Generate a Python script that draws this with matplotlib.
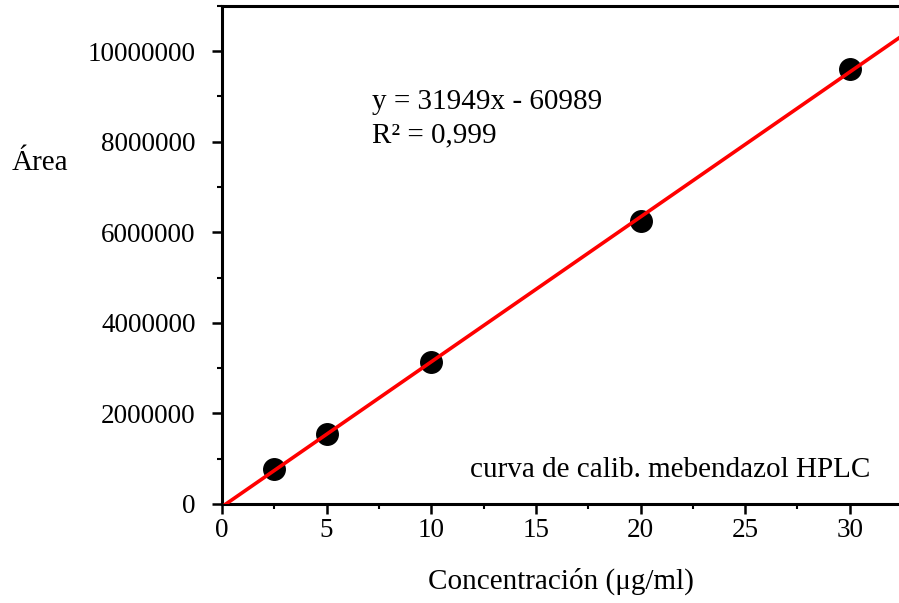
import numpy as np
import matplotlib
matplotlib.use("Agg")
import matplotlib.pyplot as plt
from matplotlib.ticker import MultipleLocator

# Calibration standards
conc = [2.5, 5, 10, 20, 30]
area = [770000, 1550000, 3130000, 6250000, 9600000]
x_ticks = [0, 5, 10, 15, 20, 25, 30]
y_ticks = [0, 2000000, 4000000, 6000000, 8000000, 10000000]

plt.rcParams['font.family'] = ['Liberation Serif', 'DejaVu Serif']

fig = plt.figure(figsize=(8.99, 6.03), dpi=100)
ax = fig.add_axes([0.2469, 0.1642, 0.7531, 0.826])

# Least-squares trendline through the standards
m, b = np.polyfit(conc, area, 1)
xmax = 32.35
xl = np.array([0, xmax])
ax.plot(xl, m * xl + b, color='#ff0000', lw=2.6, zorder=3)
ax.plot(conc, area, 'o', color='black', ms=15.5, zorder=2)

ax.set_xlim(0, xmax)
ax.set_ylim(0, 11000000)
ax.set_xticks(x_ticks)
ax.set_yticks(y_ticks)
ax.set_yticklabels([str(v) for v in y_ticks])
ax.xaxis.set_minor_locator(MultipleLocator(2.5))
ax.yaxis.set_minor_locator(MultipleLocator(1000000))

ax.spines['right'].set_visible(False)
for s in ['left', 'bottom', 'top']:
    ax.spines[s].set_linewidth(2.2)
ax.tick_params(which='major', direction='out', length=7, width=1.8,
               labelsize=19.5, top=False, right=False)
ax.tick_params(which='minor', direction='out', length=3.5, width=1.5,
               top=False, right=False)
ax.tick_params(axis='y', which='major', pad=12)
ax.tick_params(axis='x', which='major', pad=3)

ax.set_xlabel('Concentración (μg/ml)', fontsize=21, labelpad=18)
fig.text(0.013, 0.73, 'Área', fontsize=21, ha='left', va='center')

ax.text(0.221, 0.807, 'y = 31949x - 60989', transform=ax.transAxes,
        fontsize=21, ha='left', va='center')
ax.text(0.221, 0.741, 'R² = 0,999', transform=ax.transAxes,
        fontsize=21, ha='left', va='center')
ax.text(0.957, 0.068, 'curva de calib. mebendazol HPLC', transform=ax.transAxes,
        fontsize=21, ha='right', va='center')

fig.savefig('out.png', dpi=100)
